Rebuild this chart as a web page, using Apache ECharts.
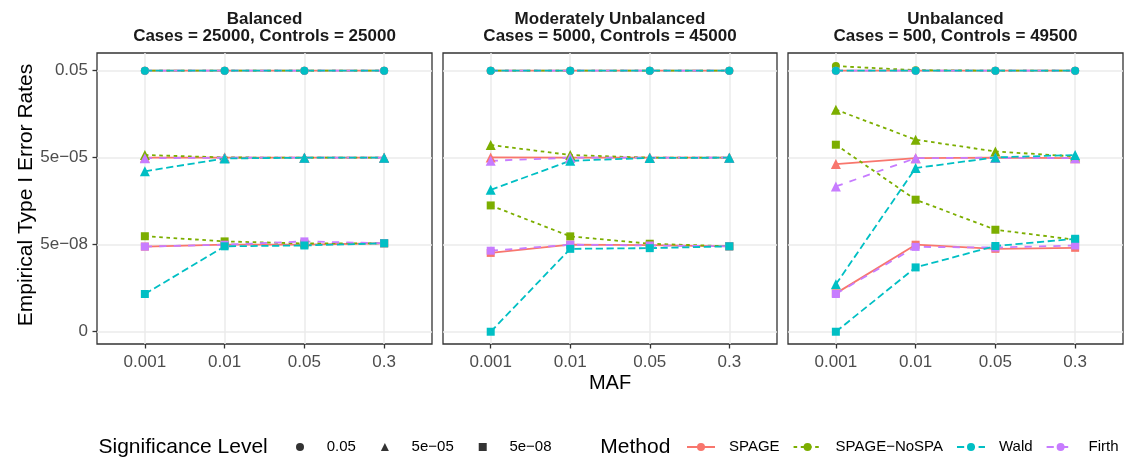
<!DOCTYPE html>
<html>
<head>
<meta charset="utf-8">
<script src="https://cdn.jsdelivr.net/npm/echarts@6/dist/echarts.min.js"></script>
<style>
  html, body { margin: 0; padding: 0; background: #fff; }
  #chart { width: 1126px; height: 458px; }
</style>
</head>
<body>
<div id="chart"></div>
<script>
// ---------- data ----------
const mafLabels = ['0.001', '0.01', '0.05', '0.3'];
const panelNames = ['Balanced', 'Moderately Unbalanced', 'Unbalanced'];
const panelSubtitles = ['Cases = 25000, Controls = 25000', 'Cases = 5000, Controls = 45000', 'Cases = 500, Controls = 49500'];
const methods = ['SPAGE', 'SPAGE-NoSPA', 'Wald', 'Firth'];
const levels = ['0.05', '5e-05', '5e-08'];
const yTickValues = [0, 5e-8, 5e-5, 0.05];
const yTickLabels = ['0', '5e-08', '5e-05', '0.05'];

// each array: rows = [SPAGE, SPAGE-NoSPA, Wald, Firth], columns = MAF
const balanced_005 = [
  [0.05, 0.05, 0.05, 0.05],
  [0.05, 0.05, 0.05, 0.05],
  [0.05, 0.05, 0.05, 0.05],
  [0.05, 0.05, 0.05, 0.05]
];
const balanced_5e05 = [
  [5.0e-5, 5.0e-5, 5.0e-5, 5.0e-5],
  [6.2e-5, 5.1e-5, 5.0e-5, 5.0e-5],
  [1.7e-5, 4.7e-5, 5.0e-5, 5.0e-5],
  [4.8e-5, 5.0e-5, 5.0e-5, 5.0e-5]
];
const balanced_5e08 = [
  [4.3e-8, 5.0e-8, 5.0e-8, 5.6e-8],
  [9.8e-8, 6.5e-8, 5.5e-8, 5.6e-8],
  [9.5e-10, 4.4e-8, 4.7e-8, 5.6e-8],
  [4.3e-8, 5.0e-8, 6.5e-8, 5.6e-8]
];
const moderate_005 = [
  [0.05, 0.05, 0.05, 0.05],
  [0.05, 0.05, 0.05, 0.05],
  [0.05, 0.05, 0.05, 0.05],
  [0.05, 0.05, 0.05, 0.05]
];
const moderate_5e05 = [
  [5.1e-5, 5.0e-5, 5.0e-5, 5.0e-5],
  [1.37e-4, 6.2e-5, 5.0e-5, 5.0e-5],
  [3.9e-6, 3.9e-5, 4.9e-5, 5.0e-5],
  [3.9e-5, 5.0e-5, 5.0e-5, 5.0e-5]
];
const moderate_5e08 = [
  [2.6e-8, 5.0e-8, 4.8e-8, 4.4e-8],
  [1.13e-6, 9.7e-8, 5.4e-8, 4.4e-8],
  [0, 3.6e-8, 3.8e-8, 4.4e-8],
  [3.1e-8, 5.0e-8, 4.7e-8, 4.4e-8]
];
const unbalanced_005 = [
  [0.05, 0.05, 0.05, 0.05],
  [0.072, 0.052, 0.05, 0.05],
  [0.05, 0.05, 0.05, 0.05],
  [0.05, 0.05, 0.05, 0.05]
];
const unbalanced_5e05 = [
  [3.0e-5, 4.8e-5, 5.0e-5, 4.8e-5],
  [2.26e-3, 2.09e-4, 8.2e-5, 5.5e-5],
  [2.1e-9, 2.2e-5, 5.1e-5, 6.2e-5],
  [5.1e-6, 4.8e-5, 5.0e-5, 4.8e-5]
];
const unbalanced_5e08 = [
  [1.0e-9, 5.0e-8, 3.6e-8, 3.9e-8],
  [1.4e-4, 1.78e-6, 1.64e-7, 7.4e-8],
  [0, 8.2e-9, 4.5e-8, 8.0e-8],
  [9.5e-10, 4.2e-8, 4.0e-8, 4.7e-8]
];
const panelData = [
  [balanced_005, balanced_5e05, balanced_5e08],
  [moderate_005, moderate_5e05, moderate_5e08],
  [unbalanced_005, unbalanced_5e05, unbalanced_5e08]
];

// ---------- styling ----------
const FONT = '"Liberation Sans", Arial, Helvetica, sans-serif';
const MINUS = '\u2212';
const methodColors = ['#F8766D', '#7CAE00', '#00BFC4', '#C77CFF'];
const LW = 1.8;
const methodDash = ['solid', [3.6, 3.6], [7.2, 3.6], [7.2, 7.2]];
const levelSymbols = ['circle', 'triangle', 'rect'];
const levelSymbolSizes = [8, 10, 8];
const drawOrder = [0, 1, 3, 2]; // Wald drawn last (on top)

// pseudo-log transform: 0 -> 0, 5e-08 -> 1, 5e-05 -> 2, 0.05 -> 3
const FLOOR = 5e-11;
function tr(v) { return Math.log10(v / FLOOR + 1) / 3; }
const yTickPos = yTickValues.map(tr);

const grids = [
  { left: 97, top: 53, width: 335, height: 291 },
  { left: 443, top: 53, width: 334, height: 291 },
  { left: 788, top: 53, width: 335, height: 291 }
];

const option = {
  animation: false,
  backgroundColor: '#fff',
  grid: grids.map(g => Object.assign({ show: true, borderColor: '#333333', borderWidth: 1.3, backgroundColor: '#fff', containLabel: false }, g)),
  xAxis: grids.map((g, i) => ({
    type: 'value', gridIndex: i, min: -0.6, max: 3.6, position: 'bottom',
    axisLine: { show: false, onZero: false },
    axisTick: { show: true, customValues: [0, 1, 2, 3], length: 4.5, lineStyle: { color: '#333333', width: 1.3 } },
    axisLabel: {
      customValues: [0, 1, 2, 3], margin: 9.5, fontSize: 17, color: '#4D4D4D', fontFamily: FONT,
      formatter: v => mafLabels[Math.round(v)]
    },
    splitLine: { show: true, lineStyle: { color: '#EBEBEB', width: 1.5 } }
  })),
  yAxis: grids.map((g, i) => ({
    type: 'value', gridIndex: i, min: -0.141, max: 3.203, position: 'left',
    axisLine: { show: false, onZero: false },
    axisTick: { show: i === 0, customValues: yTickPos, length: 4.5, lineStyle: { color: '#333333', width: 1.3 } },
    axisLabel: {
      show: i === 0, customValues: yTickPos, margin: 9, fontSize: 17, color: '#4D4D4D', fontFamily: FONT,
      formatter: v => yTickLabels[Math.round(v)].replace('-', MINUS)
    },
    splitLine: { show: true, lineStyle: { color: '#EBEBEB', width: 1.5 } }
  })),
  legend: [
    {
      data: levels.map((n, k) => ({ name: n, icon: levelSymbols[k] })),
      left: 296, top: 439.5, orient: 'horizontal', padding: 0, width: 400,
      itemWidth: 8, itemHeight: 8, itemGap: 25, selectedMode: false,
      formatter: n => n.replace('-', MINUS),
      textStyle: { fontSize: 15, color: '#000', fontFamily: FONT, padding: [0, 0, 0, 17.7] }
    },
    {
      data: methods.map(n => ({ name: n })),
      left: 686, top: 439.5, orient: 'horizontal', padding: 0, width: 440,
      itemWidth: 28, itemHeight: 10, itemGap: 13, selectedMode: false,
      formatter: n => n.replace('-', MINUS),
      textStyle: { fontSize: 15, color: '#000', fontFamily: FONT, padding: [0, 0, 0, 9] }
    }
  ],
  graphic: [],
  series: []
};

// titles
panelNames.forEach((name, i) => {
  const g = grids[i];
  option.graphic.push({
    type: 'text', x: g.left + g.width / 2, y: 10.5,
    style: {
      text: name + '\n' + panelSubtitles[i], fontSize: 17, fontWeight: 'bold', fontFamily: FONT,
      fill: '#1A1A1A', align: 'center', verticalAlign: 'top', lineHeight: 17.5
    }
  });
});
option.graphic.push({
  type: 'text', x: 26, y: 195, rotation: Math.PI / 2,
  style: { text: 'Empirical Type I Error Rates', fontSize: 21, fontFamily: FONT, fill: '#000', align: 'center', verticalAlign: 'middle' }
});
option.graphic.push({
  type: 'text', x: 610, y: 383,
  style: { text: 'MAF', fontSize: 20, fontFamily: FONT, fill: '#000', align: 'center', verticalAlign: 'middle' }
});
option.graphic.push({
  type: 'text', x: 98.5, y: 447,
  style: { text: 'Significance Level', fontSize: 21, fontFamily: FONT, fill: '#000', align: 'left', verticalAlign: 'middle' }
});
option.graphic.push({
  type: 'text', x: 600.3, y: 447,
  style: { text: 'Method', fontSize: 21, fontFamily: FONT, fill: '#000', align: 'left', verticalAlign: 'middle' }
});

// data series
levels.forEach((lev, l) => {
  panelData.forEach((pd, p) => {
    drawOrder.forEach(m => {
      option.series.push({
        type: 'line', name: methods[m], xAxisIndex: p, yAxisIndex: p,
        data: pd[l][m].map((v, i) => [i, tr(v)]),
        symbol: levelSymbols[l], symbolSize: levelSymbolSizes[l], showSymbol: true,
        lineStyle: { color: methodColors[m], width: LW, type: methodDash[m] },
        itemStyle: { color: methodColors[m], borderWidth: 0 },
        emphasis: { disabled: true }, silent: true, clip: false
      });
    });
  });
});
// shape-only legend entries (no marks)
levels.forEach((lev, l) => {
  option.series.push({
    type: 'scatter', name: lev, xAxisIndex: 0, yAxisIndex: 0, data: [],
    symbol: levelSymbols[l], itemStyle: { color: '#000', borderWidth: 0 }
  });
});

const chart = echarts.init(document.getElementById('chart'), null, { renderer: 'canvas' });
chart.setOption(option);
</script>
</body>
</html>
